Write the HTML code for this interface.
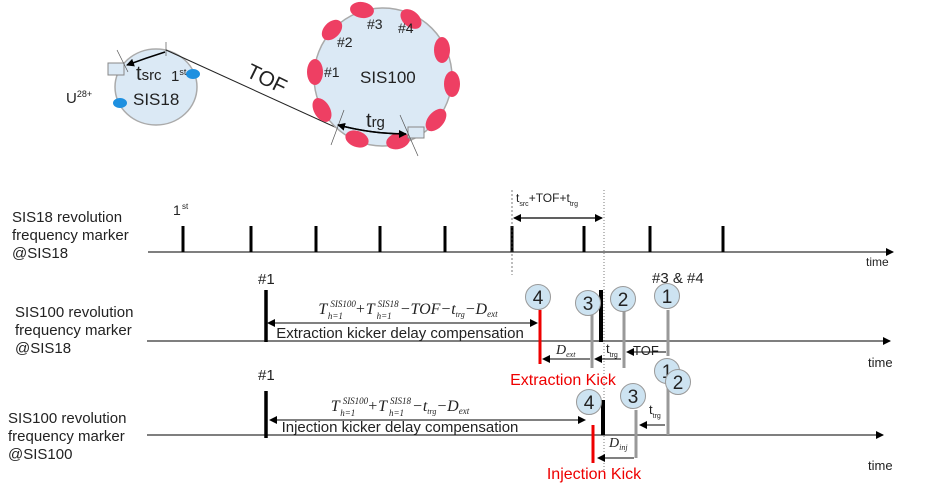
<!DOCTYPE html>
<html><head><meta charset="utf-8"><style>
html,body{margin:0;padding:0;background:#fff;}
svg{display:block;font-family:"Liberation Sans",sans-serif;}
.i{font-family:"Liberation Serif",serif;font-style:italic;}
</style></head><body>
<svg id="s" width="927" height="486" viewBox="0 0 927 486">
<defs>
<marker id="ah" markerWidth="8" markerHeight="8" refX="7" refY="4" orient="auto" markerUnits="userSpaceOnUse"><path d="M0,0 L8,4 L0,8 z" fill="#000"/></marker>
</defs>
<g>
<ellipse cx="156" cy="87" rx="41" ry="38" fill="#dbe9f5" stroke="#aaa" stroke-width="1.5"/>
<text x="133" y="105" font-size="17" fill="#222">SIS18</text>
<ellipse cx="193" cy="74" rx="7" ry="5" fill="#1e90e0"/>
<ellipse cx="120" cy="103" rx="7" ry="5" fill="#1e90e0"/>
<text x="171" y="81" font-size="15" fill="#222">1<tspan font-size="9" dy="-6">st</tspan></text>
<text x="66" y="103" font-size="15" fill="#222">U<tspan font-size="9" dy="-6">28+</tspan></text>
<rect x="108" y="63" width="16" height="12" fill="#dbe9f5" stroke="#888"/>
<line x1="117" y1="50" x2="128" y2="72" stroke="#555" stroke-width="0.7"/>
<line x1="166" y1="42" x2="166" y2="56" stroke="#555" stroke-width="0.7"/>
<path d="M165,52 Q146,58 127,65" fill="none" stroke="#000" stroke-width="1.5" marker-end="url(#ah)"/>
<text x="136" y="80" font-size="20" fill="#222">t<tspan font-size="15">src</tspan></text>
<line x1="166" y1="50" x2="337" y2="128" stroke="#222" stroke-width="1"/>
<text x="0" y="0" font-size="21" fill="#222" transform="translate(245,76) rotate(26)">TOF</text>
<circle cx="383" cy="77" r="69" fill="#dbe9f5" stroke="#aaa" stroke-width="1.5"/>
<text x="360" y="83" font-size="17" fill="#222">SIS100</text>
<g fill="#ee3f63">
<ellipse cx="362" cy="10" rx="12" ry="8" transform="rotate(8 362 10)"/>
<ellipse cx="411" cy="19" rx="12" ry="8" transform="rotate(40 411 19)"/>
<ellipse cx="332" cy="30" rx="12" ry="8" transform="rotate(-45 332 30)"/>
<ellipse cx="442" cy="50" rx="8" ry="13"/>
<ellipse cx="315" cy="72" rx="8" ry="13"/>
<ellipse cx="452" cy="84" rx="8" ry="13"/>
<ellipse cx="322" cy="110" rx="8" ry="13" transform="rotate(-30 322 110)"/>
<ellipse cx="436" cy="120" rx="8" ry="13" transform="rotate(40 436 120)"/>
<ellipse cx="357" cy="139" rx="12" ry="8" transform="rotate(20 357 139)"/>
<ellipse cx="398" cy="141" rx="12" ry="8" transform="rotate(-15 398 141)"/>
</g>
<text x="367" y="29" font-size="14" fill="#222">#3</text>
<text x="398" y="33" font-size="14" fill="#222">#4</text>
<text x="337" y="47" font-size="14" fill="#222">#2</text>
<text x="324" y="77" font-size="14" fill="#222">#1</text>
<rect x="408" y="127" width="16" height="11" fill="#dbe9f5" stroke="#888"/>
<line x1="344" y1="110" x2="331" y2="145" stroke="#555" stroke-width="0.7"/>
<line x1="400" y1="115" x2="418" y2="156" stroke="#555" stroke-width="0.7"/>
<path d="M338,125 Q372,134 406,134" fill="none" stroke="#000" stroke-width="1.5" marker-end="url(#ah)"/>
<path d="M406,134 Q372,134 338,125" fill="none" stroke="#000" stroke-width="1.5" marker-end="url(#ah)"/>
<text x="366" y="127" font-size="20" fill="#222">t<tspan font-size="15">rg</tspan></text>
</g>
<g id="tl"></g>
</svg>
<script>
const sis18Ticks = [183, 251, 316, 380, 445, 512, 584, 650, 723];
const NS = 'http://www.w3.org/2000/svg';
const g = document.getElementById('tl');
function el(tag, attrs, txt){const e=document.createElementNS(NS,tag);for(const k in attrs)e.setAttribute(k,attrs[k]);if(txt!==undefined)e.textContent=txt;g.appendChild(e);return e;}
function ln(x1,y1,x2,y2,c,w,arr,dash){const a={x1,y1,x2,y2,stroke:c,'stroke-width':w};if(arr)a['marker-end']='url(#ah)';if(dash)a['stroke-dasharray']=dash;return el('line',a);}
function tx(x,y,s,size,fill,anchor){return el('text',{x,y,'font-size':size,fill:fill||'#222','text-anchor':anchor||'start'},s);}
function circ(x,y,n){el('circle',{cx:x,cy:y,r:12.5,fill:'#cde3f1',stroke:'#999','stroke-width':1});tx(x,y+7,n,19,'#222','middle');}
[['SIS18 revolution',12,222],['frequency marker',12,240],['@SIS18',12,258],
 ['SIS100 revolution',15,317],['frequency marker',15,335],['@SIS18',15,353],
 ['SIS100 revolution',8,423],['frequency marker',8,441],['@SIS100',8,459]].forEach(l=>{const t=tx(l[1],l[2],l[0],15,'#222');});
let a1=ln(148,252,893,252,'#333',1.3,true);


let a2=ln(147,341,890,341,'#333',1.3,true);


let a3=ln(147,435,883,435,'#333',1.3,true);


tx(866,266,'time',12);tx(868,367,'time',13);tx(868,470,'time',13);
sis18Ticks.forEach(x=>{const t=ln(x,226,x,252,'#000',3);});
tx(173,215,'1',14);tx(182,209,'st',8);
ln(512,190,512,275,'#444',0.7,false,'2,2');
ln(604,190,604,470,'#444',0.7,false,'1,2');
ln(560,218,514,218,'#000',1.3,true);ln(560,218,602,218,'#000',1.3,true);
const t1=el('text',{x:516,y:202,'font-size':12,fill:'#222'});t1.innerHTML='t<tspan font-size="7" dy="4">src</tspan><tspan dy="-4">+TOF+t</tspan><tspan font-size="7" dy="4">trg</tspan>';
tx(258,284,'#1',15);tx(652,283,'#3 & #4',15);
ln(266,290,266,342,'#000',3.5);
ln(400,323,268,323,'#000',1,true);ln(400,323,537,323,'#000',1,true);
const f1=el('text',{x:408,y:314,'font-size':16,'text-anchor':'middle',class:'i',fill:'#222'});
f1.innerHTML='T<tspan font-size="9" dx="3" dy="-7">SIS100</tspan><tspan font-size="9" dx="-28" dy="12">h=1</tspan><tspan dx="12" dy="-5">+T</tspan><tspan font-size="9" dx="3" dy="-7">SIS18</tspan><tspan font-size="9" dx="-22" dy="12">h=1</tspan><tspan dx="8" dy="-5">−TOF−t</tspan><tspan font-size="8" dy="3">trg</tspan><tspan dy="-3">−D</tspan><tspan font-size="9" dy="3">ext</tspan>';
tx(400,338,'Extraction kicker delay compensation',15,'#222','middle');
ln(540,310,540,364,'#e00',3);ln(592,310,592,368,'#999',3);ln(601,290,601,342,'#000',4);ln(624,310,624,368,'#999',3);ln(668,310,668,356,'#999',3);
circ(538,297,'4');circ(588,303,'3');circ(623,299,'2');circ(667,296,'1');
ln(590,359,543,359,'#000',1,true);ln(621,359,595,359,'#000',1,true);ln(666,352,627,352,'#000',1,true);
const d1=el('text',{x:556,y:354,'font-size':14,class:'i',fill:'#222'});d1.innerHTML='D<tspan font-size="8" dy="3">ext</tspan>';
const d2=el('text',{x:606,y:353,'font-size':13,fill:'#222'});d2.innerHTML='t<tspan font-size="7" dy="4">trg</tspan>';
tx(633,355,'TOF',13);
tx(563,385,'Extraction Kick',16,'#e00','middle');
tx(258,380,'#1',15);
ln(266,391,266,438,'#000',3.5);
ln(430,420,270,420,'#000',1,true);ln(430,420,585,420,'#000',1,true);
const f2=el('text',{x:400,y:411,'font-size':16,'text-anchor':'middle',class:'i',fill:'#222'});
f2.innerHTML='T<tspan font-size="9" dx="3" dy="-7">SIS100</tspan><tspan font-size="9" dx="-28" dy="12">h=1</tspan><tspan dx="12" dy="-5">+T</tspan><tspan font-size="9" dx="3" dy="-7">SIS18</tspan><tspan font-size="9" dx="-22" dy="12">h=1</tspan><tspan dx="8" dy="-5">−t</tspan><tspan font-size="8" dy="3">trg</tspan><tspan dy="-3">−D</tspan><tspan font-size="9" dy="3">ext</tspan>';
tx(400,432,'Injection kicker delay compensation',15,'#222','middle');
ln(593,425,593,463,'#e00',3);ln(603,400,603,435,'#000',4);ln(636,410,636,458,'#999',3);ln(668,380,668,435,'#999',3);
circ(589,402,'4');circ(633,396,'3');circ(667,371,'1');circ(678,382,'2');
ln(665,425,640,425,'#000',1,true);ln(634,458,598,458,'#000',1,true);
const d3=el('text',{x:649,y:414,'font-size':13,fill:'#222'});d3.innerHTML='t<tspan font-size="7" dy="4">trg</tspan>';
const d4=el('text',{x:609,y:447,'font-size':14,class:'i',fill:'#222'});d4.innerHTML='D<tspan font-size="8" dy="3">inj</tspan>';
tx(594,479,'Injection Kick',16,'#e00','middle');
</script>
</body></html>
